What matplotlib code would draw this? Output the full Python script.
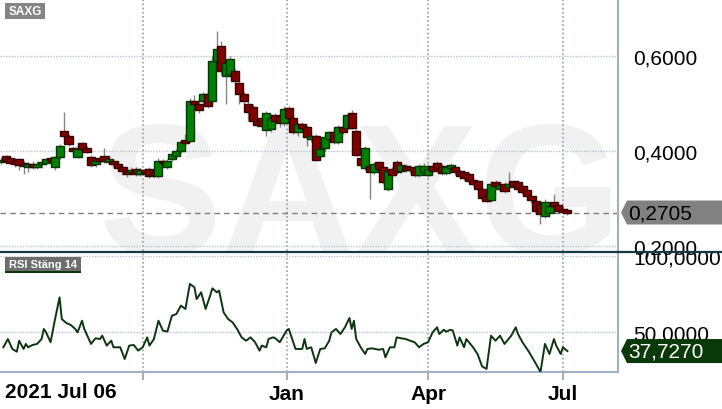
import numpy as np
import pandas as pd
import matplotlib
matplotlib.use("Agg")
import matplotlib.pyplot as plt
from matplotlib.patches import Polygon, Rectangle
from matplotlib.lines import Line2D
from matplotlib.transforms import IdentityTransform

plt.rcParams['font.family'] = ['Liberation Sans', 'DejaVu Sans']

# trading sessions (Stockholm holidays removed)
start = '2021-07-06'
end = '2022-07-06'
holidays = ['2021-12-24', '2021-12-31', '2022-01-06', '2022-04-15',
            '2022-04-18', '2022-05-26', '2022-06-06', '2022-06-24']
sessions = pd.bdate_range(start, end, freq='C', holidays=holidays)

# one candle per two sessions
opens = [.376, .389, .385, .382, .384, .375, .366, .372, .367, .372,
         .375, .385, .366, .388, .442, .432, .406, .388, .417, .406,
         .387, .372, .385, .389, .376, .380, .372, .366, .357, .355,
         .362, .351, .361, .362, .356, .348, .379, .366, .383, .389,
         .400, .423, .421, .505, .499, .505, .520, .505, .590, .621,
         .558, .562, .568, .543, .520, .499, .493, .463, .470, .444,
         .446, .476, .474, .459, .490, .469, .440, .457, .450, .425,
         .432, .389, .406, .425, .440, .419, .450, .448, .480, .442,
         .385, .364, .368, .356, .377, .366, .320, .362, .377, .358,
         .368, .366, .364, .350, .356, .350, .368, .375, .368, .354,
         .364, .366, .358, .356, .352, .340, .337, .320, .305, .297,
         .335, .320, .331, .324, .337, .335, .326, .318, .305, .295,
         .288, .263, .270, .293, .286, .278, .276]
highs = [.388, .392, .388, .386, .386, .380, .376, .378, .378, .380,
         .386, .388, .390, .414, .482, .436, .410, .410, .420, .410,
         .392, .384, .389, .406, .388, .384, .376, .370, .362, .366,
         .366, .364, .364, .366, .360, .385, .384, .384, .396, .404,
         .424, .436, .512, .518, .510, .524, .530, .600, .653, .632,
         .590, .600, .572, .548, .525, .506, .498, .470, .476, .484,
         .478, .480, .478, .495, .495, .474, .460, .462, .455, .440,
         .436, .410, .432, .442, .446, .455, .470, .478, .486, .446,
         .390, .410, .372, .376, .380, .370, .362, .366, .382, .374,
         .372, .370, .368, .372, .374, .372, .374, .380, .372, .370,
         .374, .370, .362, .360, .356, .344, .340, .324, .308, .336,
         .338, .332, .334, .356, .340, .338, .330, .322, .308, .300,
         .292, .298, .288, .309, .292, .284, .280]
lows = [.372, .375, .372, .366, .360, .352, .356, .362, .362, .365,
        .370, .376, .360, .384, .428, .410, .394, .385, .400, .396,
        .366, .366, .374, .374, .372, .366, .360, .350, .346, .350,
        .348, .348, .350, .344, .344, .344, .372, .362, .380, .386,
        .396, .412, .418, .496, .480, .500, .490, .500, .580, .560,
        .499, .555, .540, .499, .500, .463, .460, .450, .448, .432,
        .440, .455, .450, .452, .465, .436, .432, .444, .410, .418,
        .378, .384, .400, .420, .415, .414, .436, .444, .446, .390,
        .368, .360, .299, .352, .360, .330, .316, .346, .352, .354,
        .356, .354, .346, .346, .350, .346, .356, .360, .350, .350,
        .360, .350, .342, .340, .333, .326, .316, .298, .292, .294,
        .322, .316, .312, .320, .322, .316, .310, .300, .290, .270,
        .246, .258, .262, .280, .270, .268, .266]
closes = [.382, .378, .375, .372, .371, .368, .372, .367, .372, .376,
          .384, .379, .388, .410, .432, .415, .399, .405, .405, .398,
          .371, .379, .379, .378, .383, .372, .365, .357, .352, .361,
          .352, .360, .353, .348, .350, .380, .374, .379, .393, .400,
          .418, .417, .505, .499, .486, .520, .495, .590, .615, .568,
          .585, .594, .547, .520, .505, .482, .463, .455, .453, .480,
          .470, .463, .459, .488, .469, .440, .457, .448, .429, .432,
          .381, .404, .429, .440, .419, .450, .440, .476, .448, .392,
          .371, .406, .356, .372, .362, .335, .358, .350, .356, .370,
          .360, .360, .350, .368, .368, .362, .358, .364, .354, .366,
          .370, .356, .347, .343, .337, .330, .320, .301, .295, .331,
          .326, .328, .316, .331, .326, .320, .314, .305, .296, .274,
          .267, .293, .284, .284, .274, .272, .2705]

# RSI (close, 14): session number and value
rsi_idx = [1, 3, 5, 7, 8, 10, 11, 12, 14, 16, 18, 19, 20, 22, 24, 26, 27, 29,
           31, 33, 34, 36, 37, 40, 42, 44, 45, 47, 49, 50, 53, 55, 57, 59, 61,
           63, 65, 66, 68, 70, 72, 74, 76, 78, 80, 82, 84, 86, 87, 89, 91, 93,
           94, 96, 97, 99, 101, 103, 105, 107, 109, 111, 113, 115, 116, 118,
           119, 121, 122, 124, 127, 128, 131, 134, 135, 136, 138, 140, 142,
           144, 146, 147, 149, 151, 153, 155, 156, 157, 158, 160, 162, 163,
           165, 168, 170, 171, 173, 175, 176, 178, 180, 182, 184, 186, 188,
           190, 192, 194, 195, 197, 198, 200, 201, 203, 204, 206, 207, 210,
           212, 214, 216, 218, 220, 222, 224, 227, 229, 230, 232, 235, 238,
           240, 242, 244, 246, 247, 249, 250, 252]
rsi_val = [40.2, 45.6, 39.1, 37.3, 44.5, 39.1, 42.4, 40.2, 41.7, 42.4, 45.6,
           52.2, 50.0, 43.5, 58.7, 72.9, 58.7, 56.1, 54.8, 52.2, 50.0, 57.6,
           52.2, 42.4, 46.1, 45.6, 47.8, 41.3, 44.5, 40.2, 40.2, 32.5, 41.3,
           41.7, 38.0, 40.2, 46.7, 41.3, 45.6, 57.6, 51.1, 50.5, 60.9, 62.0,
           67.5, 65.3, 81.7, 79.5, 71.8, 76.2, 65.3, 74.0, 78.8, 76.2, 77.3,
           63.1, 58.7, 56.5, 52.2, 46.7, 44.5, 46.7, 43.5, 38.0, 41.3, 40.2,
           45.6, 46.7, 46.1, 43.5, 51.1, 52.2, 39.1, 39.1, 45.6, 39.1, 40.2,
           29.9, 39.1, 39.5, 44.5, 50.0, 52.2, 48.9, 53.3, 59.4, 52.2, 57.6,
           45.6, 40.2, 35.8, 39.1, 39.5, 38.6, 39.1, 33.6, 40.2, 40.2, 46.7,
           46.1, 45.6, 44.5, 43.5, 40.2, 42.4, 43.5, 50.0, 53.3, 48.9, 51.7,
           50.4, 51.7, 51.1, 41.3, 46.7, 40.2, 45.6, 40.2, 35.8, 27.7, 26.0,
           47.8, 44.5, 47.8, 42.4, 47.8, 53.3, 48.9, 43.5, 36.9, 29.3, 24.0,
           42.4, 35.8, 45.6, 41.3, 35.8, 40.2, 37.727]

ticker = 'SAXG'
rsi_title = 'RSI Stäng 14'
first_label = '2021 Jul 06'
month_labels = ['', 'Jan', 'Apr', 'Jul']
price_ticks = [0.2, 0.4, 0.6]
rsi_ticks = [50, 100]

W, H = 722, 410
fig = plt.figure(figsize=(W / 100, H / 100), dpi=100)
fig.patch.set_facecolor('white')
ax = fig.add_axes([0, 158 / H, 618 / W, 252 / H])
ax_rsi = fig.add_axes([0, 37 / H, 618 / W, 119 / H], sharex=ax)

axis_col = '#9fb0c4'
for a in (ax, ax_rsi):
    for s in ('left', 'top', 'bottom'):
        a.spines[s].set_visible(False)
    a.spines['right'].set_color(axis_col)
    a.spines['right'].set_linewidth(1.5)
    a.yaxis.tick_right()
    a.tick_params(axis='y', length=0, pad=10.8, labelsize=15, labelcolor='black')
    a.set_facecolor('none')
ax_rsi.spines['bottom'].set_visible(True)
ax_rsi.spines['bottom'].set_color(axis_col)
ax_rsi.spines['bottom'].set_linewidth(1.5)

# candles
cidx = np.arange(0, len(sessions), 2)[:len(opens)]
o = np.array(opens)
c = np.array(closes)
up = c >= o
ax.vlines(cidx, lows, highs, color='#858585', lw=1, zorder=2)
body_lo = np.minimum(o, c)
body_h = np.maximum(np.abs(c - o), 0.003)
ax.bar(cidx, body_h, bottom=body_lo, width=3.6,
       color=np.where(up, '#008000', '#800000'),
       edgecolor=np.where(up, '#013801', '#3a0000'), linewidth=1.0, zorder=3)

ax.axhline(closes[-1], color='#7d7d7d', ls=(0, (4, 3)), lw=1, zorder=1)

ax.set_xlim(-0.5, 274.5)
ax.set_ylim(0.1895, 0.72)
ax_rsi.set_ylim(24.0, 101.97)

# month ticks
month_start = [i for i in range(1, len(sessions))
               if sessions[i].month != sessions[i - 1].month and sessions[i].month in (1, 4, 7, 10)]
ax_rsi.set_xticks(month_start)
ax_rsi.set_xticklabels(month_labels)
ax_rsi.tick_params(axis='x', length=6, width=1.5, color=axis_col, pad=3,
                   labelsize=15)
for lab in ax_rsi.get_xticklabels():
    lab.set_fontweight('bold')
ax.tick_params(axis='x', length=0, labelbottom=False)

ax.set_yticks(price_ticks)
ax.set_yticklabels([f'{v:.4f}'.replace('.', ',') for v in price_ticks])
ax_rsi.set_yticks(rsi_ticks)
ax_rsi.set_yticklabels([f'{v:.4f}'.replace('.', ',') for v in rsi_ticks])

for a in (ax, ax_rsi):
    a.grid(axis='y', color='#b8c3ce', ls=(0, (1, 1)), lw=1)
    a.grid(axis='x', color='#8e9eb0', ls=(0, (1, 1.5)), lw=1.2)
    a.set_axisbelow(True)

# RSI line
ax_rsi.plot(rsi_idx, rsi_val, color='#0e3512', lw=1.4, zorder=3)

# watermark
ax.text(0.583, -0.008, ticker, transform=ax.transAxes, ha='center',
        va='baseline', fontsize=133, fontweight='bold', color='#f1f1f1',
        zorder=0, clip_on=True)

# panel labels
ax.add_patch(Rectangle((5 / 618, 232 / 252), 40 / 618, 16 / 252,
                       transform=ax.transAxes, fc='#858585', ec='none',
                       clip_on=False, zorder=5))
ax.text(25 / 618, 240 / 252, ticker, transform=ax.transAxes, ha='center',
        va='center', color='white', fontsize=8.5, fontweight='bold', zorder=6)
ax_rsi.add_patch(Rectangle((5 / 618, 101 / 119), 76 / 618, 14 / 119,
                           transform=ax_rsi.transAxes, fc='#6e6e6e', ec='none',
                           clip_on=False, zorder=5))
ax_rsi.add_patch(Rectangle((5 / 618, 99 / 119), 76 / 618, 2 / 119,
                           transform=ax_rsi.transAxes, fc='#0a3a0a', ec='none',
                           clip_on=False, zorder=5))
ax_rsi.text(43 / 618, 108 / 119, rsi_title, transform=ax_rsi.transAxes,
            ha='center', va='center', color='white', fontsize=8,
            fontweight='bold', zorder=6)

# date label at the start
fig.text(5 / W, 1 - 398 / H, first_label, ha='left', va='baseline',
         fontsize=15, fontweight='bold')

# separator between panels
fig.add_artist(Line2D([0, 1], [1 - 253 / H, 1 - 253 / H],
                      transform=fig.transFigure, color='#183744', lw=1.6))


# value tags on the right
def tag(axis, value, face, txt_col, half):
    yc = axis.transData.transform((0, value))[1]
    pts = [(621, yc), (627, yc + half), (W, yc + half), (W, yc - half),
           (627, yc - half)]
    fig.add_artist(Polygon(pts, closed=True, transform=IdentityTransform(),
                           fc=face, ec='none', zorder=10))
    fig.text(628, yc, f'{value:.4f}'.replace('.', ','), transform=IdentityTransform(),
             ha='left', va='center', fontsize=15, color=txt_col, zorder=11)


tag(ax, closes[-1], '#818181', 'black', 12)
tag(ax_rsi, rsi_val[-1], '#0a3a0a', 'white', 12)

fig.savefig('out.png', dpi=100)
